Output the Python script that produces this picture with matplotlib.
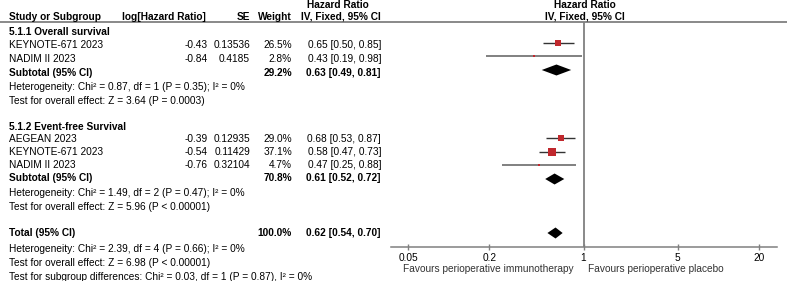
import matplotlib
matplotlib.use("Agg")
import matplotlib.pyplot as plt
import numpy as np

plt.rcParams['font.family'] = ['Liberation Sans', 'DejaVu Sans']

# ---------------- data ----------------
os_names = ["KEYNOTE-671 2023", "NADIM II 2023"]
os_loghr = [-0.43, -0.84]
os_se = ["0.13536", "0.4185"]
os_weight = [26.5, 2.8]
os_hr = [0.65, 0.43]
os_lo = [0.50, 0.19]
os_hi = [0.85, 0.98]

efs_names = ["AEGEAN 2023", "KEYNOTE-671 2023", "NADIM II 2023"]
efs_loghr = [-0.39, -0.54, -0.76]
efs_se = ["0.12935", "0.11429", "0.32104"]
efs_weight = [29.0, 37.1, 4.7]
efs_hr = [0.68, 0.58, 0.47]
efs_lo = [0.53, 0.47, 0.25]
efs_hi = [0.87, 0.73, 0.88]

# pooled: weight, hr, lo, hi
os_sub = [29.2, 0.63, 0.49, 0.81]
efs_sub = [70.8, 0.61, 0.52, 0.72]
total = [100.0, 0.62, 0.54, 0.70]

section_labels = ["5.1.1 Overall survival", "5.1.2 Event-free Survival"]
os_het = ["Heterogeneity: Chi² = 0.87, df = 1 (P = 0.35); I² = 0%",
          "Test for overall effect: Z = 3.64 (P = 0.0003)"]
efs_het = ["Heterogeneity: Chi² = 1.49, df = 2 (P = 0.47); I² = 0%",
           "Test for overall effect: Z = 5.96 (P < 0.00001)"]
tot_het = ["Heterogeneity: Chi² = 2.39, df = 4 (P = 0.66); I² = 0%",
           "Test for overall effect: Z = 6.98 (P < 0.00001)",
           "Test for subgroup differences: Chi² = 0.03, df = 1 (P = 0.87), I² = 0%"]

xticks = [0.05, 0.2, 1, 5, 20]
xtick_labels = ["0.05", "0.2", "1", "5", "20"]
fav_left = "Favours perioperative immunotherapy"
fav_right = "Favours perioperative placebo"

# ---------------- layout (pixel-like units) ----------------
W, H = 787, 281
FS = 7.3
GRAY = '#808080'
RED = '#c0282d'

fig = plt.figure(figsize=(W / 100, H / 100), dpi=100)
bg = fig.add_axes([0, 0, 1, 1])
bg.set_xlim(0, W)
bg.set_ylim(H, 0)
bg.axis('off')

ax_top, ax_bot = 21.7, 247
ax_l, ax_r = 391, 777
ax = fig.add_axes([ax_l / W, (H - ax_bot) / H, (ax_r - ax_l) / W, (ax_bot - ax_top) / H])
ax.set_xscale('log')
ax.set_xlim(10 ** -1.427, 10 ** 1.434)
ax.set_ylim(ax_bot, ax_top)
ax.patch.set_alpha(0)
for s in ['top', 'left', 'right']:
    ax.spines[s].set_visible(False)
ax.spines['bottom'].set_color(GRAY)
ax.spines['bottom'].set_linewidth(1.1)
ax.set_yticks([])
ax.set_xticks(xticks)
ax.set_xticklabels(xtick_labels, fontsize=FS)
ax.xaxis.set_minor_locator(matplotlib.ticker.NullLocator())
ax.tick_params(axis='x', direction='inout', length=5, width=1.0, color=GRAY, pad=2.0)
ax.axvline(1, color=GRAY, lw=1.3)

# columns
X_NAME, X_LOG, X_SE, X_W, X_CI = 9, 208, 250, 292, 381


def txt(x, y, s, ha='left', bold=False, color='black'):
    bg.text(x, y, s, ha=ha, va='center', fontsize=FS,
            fontweight='bold' if bold else 'normal', color=color)


# header
bg.axhline(ax_top, color=GRAY, lw=1.3)
txt(X_NAME, 16.5, "Study or Subgroup", bold=True)
txt(122, 16.5, "log[Hazard Ratio]", bold=True)
txt(X_SE, 16.5, "SE", ha='right', bold=True)
txt(X_W, 16.5, "Weight", ha='right', bold=True)
txt(307, 4.5, "Hazard Ratio", bold=True)
txt(X_CI, 16.5, "IV, Fixed, 95% CI", ha='right', bold=True)
txt(585, 4.5, "Hazard Ratio", ha='center', bold=True)
txt(585, 16.5, "IV, Fixed, 95% CI", ha='center', bold=True)


def study_rows(names, loghr, se, wt, hr, lo, hi, text_y, mark_y, line_cols):
    for i in range(len(names)):
        y = text_y[i]
        txt(X_NAME, y, names[i])
        txt(X_LOG, y, f"{loghr[i]:.2f}", ha='right')
        txt(X_SE, y, se[i], ha='right')
        txt(X_W, y, f"{wt[i]:.1f}%", ha='right')
        txt(X_CI, y, f"{hr[i]:.2f} [{lo[i]:.2f}, {hi[i]:.2f}]", ha='right')
        ax.hlines(mark_y[i], lo[i], hi[i], color=line_cols[i], lw=1.0 if line_cols[i] != GRAY else 1.4)
        side = 1.25 * np.sqrt(wt[i])
        ax.plot([hr[i]], [mark_y[i]], marker='s', ms=side * 0.72, color=RED, mec=RED, mew=0, ls='none')


def pooled(label, vals, text_y, mark_y):
    w, hr, lo, hi = vals
    txt(X_NAME, text_y, label, bold=True)
    txt(X_W, text_y, f"{w:.1f}%", ha='right', bold=True)
    txt(X_CI, text_y, f"{hr:.2f} [{lo:.2f}, {hi:.2f}]", ha='right', bold=True)
    h = 5.5
    ax.fill([lo, hr, hi, hr], [mark_y, mark_y - h, mark_y, mark_y + h], color='black', lw=0)


# section 1
txt(X_NAME, 32, section_labels[0], bold=True)
study_rows(os_names, os_loghr, os_se, os_weight, os_hr, os_lo, os_hi,
           [45.3, 59.0], [42.7, 56.0], ['#333333', GRAY])
pooled("Subtotal (95% CI)", os_sub, 72.6, 70.0)
txt(X_NAME, 87.0, os_het[0])
txt(X_NAME, 101.0, os_het[1])

# section 2
txt(X_NAME, 127.0, section_labels[1], bold=True)
study_rows(efs_names, efs_loghr, efs_se, efs_weight, efs_hr, efs_lo, efs_hi,
           [138.5, 151.8, 164.5], [138.3, 152.3, 165.3], ['#333333', '#333333', GRAY])
pooled("Subtotal (95% CI)", efs_sub, 177.7, 179.0)
txt(X_NAME, 192.5, efs_het[0])
txt(X_NAME, 206.5, efs_het[1])

# total
pooled("Total (95% CI)", total, 233.0, 233.0)
txt(X_NAME, 248.5, tot_het[0])
txt(X_NAME, 262.5, tot_het[1])
txt(X_NAME, 276.5, tot_het[2])

# favours labels
txt(574, 269.5, fav_left, ha='right', color='#333333')
txt(588, 269.5, fav_right, color='#333333')

fig.savefig("out.png", dpi=100)
